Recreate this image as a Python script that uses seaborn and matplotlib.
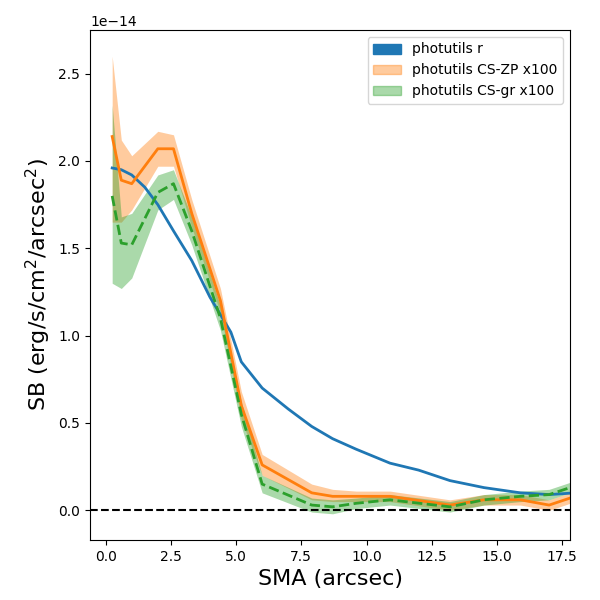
import numpy as np
import seaborn as sns
import matplotlib
matplotlib.use("Agg")
import matplotlib.pyplot as plt
from matplotlib.patches import Patch

sma = np.array([0.25, 0.6, 1.0, 2.0, 2.6, 3.3, 4.4, 5.2, 6.0, 7.9, 8.7, 9.6, 10.9, 13.2, 14.5, 15.9, 17.0, 18.0])

sma_r = np.array([0.25, 0.6, 1.0, 1.5, 2.0, 2.6, 3.3, 4.0, 4.8, 5.2, 6.0, 7.0, 7.9, 8.7, 9.6, 10.9, 12.0, 13.2, 14.5, 15.9, 17.0, 18.0])
sb_r = np.array([1.96, 1.95, 1.92, 1.85, 1.75, 1.6, 1.43, 1.22, 1.02, 0.85, 0.7, 0.58, 0.48, 0.41, 0.35, 0.27, 0.23, 0.17, 0.13, 0.1, 0.09, 0.1])

sb_zp = np.array([2.14, 1.89, 1.87, 2.07, 2.07, 1.7, 1.2, 0.6, 0.26, 0.1, 0.08, 0.08, 0.08, 0.03, 0.06, 0.06, 0.03, 0.08])
zp_hi = np.array([2.6, 2.12, 2.03, 2.17, 2.15, 1.78, 1.27, 0.68, 0.32, 0.15, 0.12, 0.11, 0.11, 0.06, 0.09, 0.09, 0.06, 0.11])
zp_lo = np.array([1.65, 1.65, 1.72, 1.97, 1.97, 1.62, 1.13, 0.52, 0.2, 0.06, 0.05, 0.05, 0.05, 0.0, 0.03, 0.03, 0.0, 0.05])

sb_gr = np.array([1.8, 1.53, 1.52, 1.82, 1.87, 1.6, 1.1, 0.55, 0.15, 0.03, 0.02, 0.04, 0.06, 0.02, 0.06, 0.08, 0.09, 0.14])
gr_hi = np.array([2.32, 1.68, 1.7, 1.92, 1.95, 1.68, 1.17, 0.62, 0.2, 0.07, 0.06, 0.07, 0.09, 0.05, 0.09, 0.11, 0.12, 0.17])
gr_lo = np.array([1.3, 1.27, 1.33, 1.72, 1.78, 1.52, 1.03, 0.48, 0.1, -0.01, -0.02, 0.01, 0.03, -0.01, 0.03, 0.05, 0.06, 0.11])

scale = 1e-14
c = sns.color_palette("tab10")

fig, ax = plt.subplots(figsize=(6, 6), dpi=100)
sns.lineplot(x=sma_r, y=sb_r * scale, color=c[0], lw=2, ax=ax)
ax.fill_between(sma, zp_lo * scale, zp_hi * scale, color=c[1], alpha=0.4, lw=0)
sns.lineplot(x=sma, y=sb_zp * scale, color=c[1], lw=2, ax=ax)
ax.fill_between(sma, gr_lo * scale, gr_hi * scale, color=c[2], alpha=0.4, lw=0)
sns.lineplot(x=sma, y=sb_gr * scale, color=c[2], lw=2, ls="--", ax=ax)
ax.axhline(0, color="k", ls="--", lw=1.5)

ax.set_xlim(-0.6, 17.8)
ax.set_ylim(-0.17e-14, 2.75e-14)
ax.set_xlabel("SMA (arcsec)", fontsize=16)
ax.set_ylabel(r"SB (erg/s/cm$^2$/arcsec$^2$)", fontsize=16)
handles = [Patch(color=c[0], label="photutils r"),
           Patch(color=c[1], alpha=0.4, label="photutils CS-ZP x100"),
           Patch(color=c[2], alpha=0.4, label="photutils CS-gr x100")]
ax.legend(handles=handles, loc="upper right")
fig.subplots_adjust(left=0.15, right=0.95, bottom=0.1, top=0.95)
fig.savefig("out.png")
